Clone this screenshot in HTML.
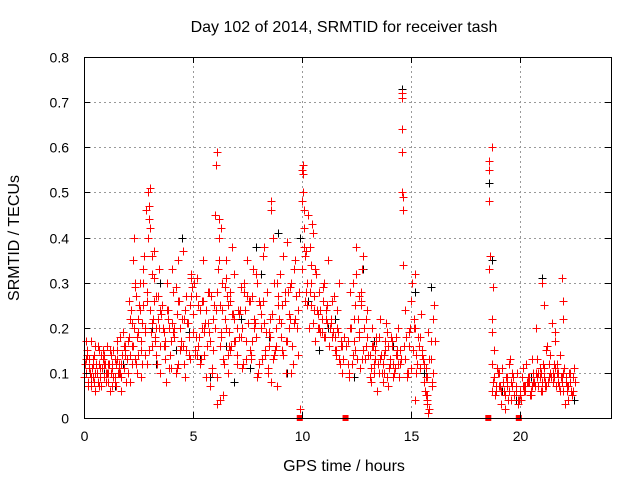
<!DOCTYPE html>
<html><head><meta charset="utf-8"><style>
body{margin:0;background:#fff;}
svg text{font-family:"Liberation Sans",sans-serif;font-size:14px;fill:#000;}
svg text.big{font-size:16px;}
</style></head><body>
<svg id="chart" width="640" height="480">
<rect width="640" height="480" fill="#fff"/>
<g id="grid"></g>
<g id="marks"></g>
<g id="axes"></g>
<text class="big" x="344" y="32" text-anchor="middle">Day 102 of 2014, SRMTID for receiver tash</text>
<text class="big" x="344" y="471" text-anchor="middle">GPS time / hours</text>
<text class="big" transform="translate(19,238) rotate(-90)" text-anchor="middle">SRMTID / TECUs</text>
</svg>
<script>
const xTicks=[0,5,10,15,20];
const yTicks=[0,0.1,0.2,0.3,0.4,0.5,0.6,0.7,0.8];
const yLabels=["0","0.1","0.2","0.3","0.4","0.5","0.6","0.7","0.8"];
const gapTimes=[9.9,12.0,18.55,19.95];
const redT=[0.05,0.1,0.15,0.2,0.25,0.3,0.35,0.4,0.45,0.5,0.55,0.6,0.65,0.7,0.75,0.8,0.85,0.9,0.95,1.0,1.05,1.1,1.15,1.2,1.25,1.3,1.35,1.4,1.45,1.5,1.55,1.6,1.65,1.7,1.75,1.8,1.85,1.9,1.95,
0.1,0.2,0.3,0.4,0.5,0.6,0.7,0.8,0.9,1.0,1.1,1.2,1.3,1.4,1.5,1.6,1.7,1.8,1.9,
2.0,2.05,2.1,2.15,2.2,2.25,2.3,2.35,2.4,2.45,2.5,2.55,2.6,2.65,2.7,2.75,2.8,2.85,2.9,2.95,3.0,3.05,3.1,3.15,3.2,3.25,3.3,3.35,3.4,3.45,3.5,
2.1,2.2,2.3,2.4,2.5,2.6,2.7,2.8,2.9,3.0,3.05,3.1,3.2,3.3,3.4,3.5,2.35,2.55,3.0,3.1,
3.6,3.7,3.8,3.9,4.0,4.1,4.2,4.3,4.4,4.5,4.6,4.7,4.8,4.9,3.65,3.75,3.85,3.95,4.05,4.15,4.25,4.35,4.45,4.55,4.65,4.75,4.85,4.95,3.7,4.0,4.3,4.6,4.9,
5.0,5.1,5.2,5.3,5.4,5.5,5.6,5.7,5.8,5.9,5.05,5.15,5.25,5.35,5.45,5.55,5.65,5.75,5.85,5.95,5.2,5.5,5.8,
6.0,6.05,6.1,6.15,6.2,6.25,6.3,6.35,6.4,6.45,6.5,6.55,6.6,6.65,6.7,6.75,6.8,6.9,7.0,6.1,6.2,6.3,6.4,6.5,6.6,6.7,6.8,6.9,7.0,6.12,6.18,6.22,
7.1,7.2,7.3,7.4,7.5,7.6,7.7,7.8,7.9,8.0,8.1,8.2,8.3,8.4,8.5,8.6,8.7,8.8,8.9,7.15,7.25,7.35,7.45,7.55,7.65,7.75,7.85,7.95,8.05,8.15,8.25,8.35,8.45,8.55,8.65,8.75,8.85,8.95,8.6,8.6,
9.0,9.1,9.2,9.3,9.4,9.5,9.6,9.7,9.8,9.05,9.15,9.25,9.35,9.45,9.55,9.65,9.75,9.85,9.9,
10.0,10.05,10.1,10.15,10.2,10.3,10.4,10.5,10.6,10.7,10.8,10.9,11.0,11.1,11.2,11.3,11.4,11.5,11.6,11.7,11.8,11.9,10.05,10.1,10.25,10.35,10.45,10.55,10.65,10.75,10.85,10.95,11.05,11.15,11.25,11.35,11.45,11.55,11.65,11.75,11.85,10.0,10.05,10.1,10.4,10.5,
12.1,12.2,12.3,12.4,12.5,12.6,12.7,12.8,12.9,13.0,12.15,12.25,12.35,12.45,12.55,12.65,12.75,12.85,12.95,12.5,12.6,12.7,
13.1,13.2,13.3,13.4,13.5,13.6,13.7,13.8,13.9,14.0,14.1,14.2,14.3,14.4,14.5,14.7,14.8,14.9,13.15,13.25,13.35,13.45,13.55,13.65,13.75,13.85,13.95,14.05,14.15,14.25,14.35,14.45,14.55,14.75,14.85,14.95,
14.6,14.6,14.6,14.6,14.65,14.65,14.6,14.65,
15.0,15.1,15.2,15.3,15.4,15.5,15.6,15.7,15.8,15.9,16.0,16.1,15.05,15.15,15.25,15.35,15.45,15.55,15.65,15.75,15.85,15.95,16.05,15.7,15.75,15.8,15.7,15.75,15.2,
18.6,18.6,18.65,18.6,18.7,18.75,18.7,18.8,18.6,18.7,
18.7,18.8,18.9,19.0,19.1,19.2,19.3,19.4,19.5,19.6,19.7,19.8,19.9,18.75,18.85,18.95,19.05,19.15,19.25,19.35,19.45,19.55,19.65,19.75,19.85,19.95,19.3,19.4,19.5,19.6,
20.0,20.1,20.2,20.3,20.4,20.5,20.6,20.7,20.8,20.9,21.0,21.1,21.2,21.3,21.4,21.5,21.6,21.7,21.8,21.9,20.05,20.15,20.25,20.35,20.45,20.55,20.65,20.75,20.85,20.95,21.05,21.15,21.25,21.35,21.45,21.55,21.65,21.75,21.85,21.95,21.0,21.1,21.6,
22.0,22.1,22.2,22.3,22.4,22.5,22.05,22.15,22.25,22.35,22.45,21.95,22.0,22.0];
const redV=[0.12,0.1,0.15,0.08,0.13,0.17,0.11,0.09,0.14,0.06,0.12,0.1,0.08,0.15,0.11,0.07,0.13,0.09,0.12,0.1,0.16,0.08,0.12,0.06,0.14,0.11,0.09,0.13,0.07,0.15,0.1,0.12,0.18,0.09,0.14,0.19,0.11,0.16,0.13,
0.17,0.07,0.09,0.13,0.16,0.1,0.07,0.14,0.12,0.08,0.1,0.15,0.12,0.08,0.17,0.11,0.06,0.19,0.15,
0.1,0.18,0.14,0.24,0.16,0.35,0.2,0.13,0.27,0.1,0.22,0.3,0.17,0.12,0.25,0.36,0.19,0.46,0.28,0.5,0.15,0.42,0.32,0.22,0.37,0.18,0.27,0.12,0.22,0.33,0.16,
0.08,0.21,0.4,0.12,0.19,0.09,0.3,0.14,0.26,0.47,0.51,0.21,0.31,0.2,0.27,0.1,0.29,0.24,0.44,0.36,
0.25,0.13,0.3,0.2,0.17,0.28,0.1,0.35,0.15,0.22,0.12,0.27,0.18,0.32,0.19,0.08,0.24,0.14,0.33,0.2,0.11,0.26,0.16,0.37,0.09,0.21,0.13,0.29,0.17,0.11,0.26,0.22,0.31,
0.23,0.15,0.31,0.12,0.26,0.2,0.09,0.28,0.17,0.22,0.3,0.18,0.25,0.13,0.35,0.21,0.16,0.28,0.1,0.25,0.14,0.19,0.07,
0.45,0.56,0.59,0.33,0.4,0.25,0.18,0.3,0.13,0.22,0.35,0.27,0.1,0.19,0.28,0.16,0.23,0.32,0.2,0.09,0.35,0.42,0.05,0.31,0.14,0.26,0.38,0.17,0.12,0.03,0.44,0.04,
0.18,0.29,0.12,0.24,0.35,0.15,0.27,0.2,0.32,0.1,0.23,0.36,0.14,0.28,0.19,0.08,0.3,0.16,0.25,0.24,0.11,0.3,0.17,0.26,0.14,0.33,0.21,0.09,0.26,0.13,0.38,0.19,0.1,0.22,0.4,0.15,0.07,0.22,0.48,0.46,
0.32,0.15,0.26,0.39,0.2,0.3,0.12,0.35,0.24,0.18,0.36,0.1,0.28,0.22,0.16,0.33,0.2,0.28,0.02,
0.55,0.5,0.42,0.36,0.28,0.45,0.3,0.21,0.33,0.24,0.28,0.19,0.3,0.22,0.35,0.2,0.26,0.18,0.24,0.3,0.16,0.13,0.56,0.46,0.25,0.38,0.43,0.27,0.32,0.2,0.24,0.29,0.18,0.25,0.16,0.22,0.27,0.15,0.19,0.12,0.1,0.48,0.54,0.38,0.34,0.41,
0.17,0.28,0.12,0.22,0.32,0.18,0.26,0.36,0.13,0.24,0.09,0.2,0.3,0.15,0.22,0.11,0.33,0.2,0.16,0.38,0.27,0.25,
0.14,0.2,0.1,0.17,0.12,0.22,0.08,0.15,0.19,0.11,0.18,0.09,0.14,0.2,0.12,0.16,0.1,0.19,0.08,0.16,0.13,0.06,0.18,0.1,0.14,0.21,0.07,0.12,0.17,0.11,0.15,0.09,0.13,0.24,0.1,0.2,
0.71,0.64,0.59,0.5,0.49,0.46,0.72,0.34,
0.26,0.15,0.2,0.12,0.18,0.14,0.08,0.11,0.19,0.13,0.22,0.17,0.3,0.22,0.1,0.16,0.23,0.13,0.06,0.03,0.02,0.07,0.25,0.05,0.04,0.01,0.09,0.05,0.32,
0.55,0.48,0.36,0.57,0.6,0.29,0.22,0.15,0.33,0.19,
0.12,0.09,0.06,0.1,0.07,0.11,0.05,0.08,0.12,0.04,0.09,0.06,0.03,0.08,0.05,0.11,0.07,0.03,0.06,0.09,0.04,0.13,0.07,0.05,0.1,0.04,0.02,0.07,0.06,0.08,
0.05,0.09,0.06,0.12,0.08,0.05,0.1,0.07,0.13,0.09,0.06,0.11,0.15,0.08,0.14,0.1,0.17,0.12,0.07,0.09,0.04,0.11,0.07,0.09,0.05,0.13,0.08,0.2,0.1,0.06,0.12,0.08,0.16,0.09,0.21,0.12,0.07,0.1,0.06,0.08,0.3,0.25,0.19,
0.06,0.09,0.04,0.08,0.05,0.11,0.03,0.07,0.1,0.06,0.09,0.31,0.26,0.22];
const redT2=[0.02,0.12,0.22,0.32,0.42,0.52,0.62,0.72,0.82,0.92,1.02,1.12,1.22,1.32,1.42,1.52,1.62,1.72,1.82,1.92,0.07,0.27,0.47,0.67,0.87,1.07,1.27,1.47,1.67,1.87,
2.02,2.12,2.22,2.32,2.42,2.52,2.62,2.72,2.82,2.92,3.02,3.12,3.22,3.32,3.42,3.52,2.07,2.27,2.47,2.67,2.87,3.07,3.27,3.47,
3.62,3.72,3.82,3.92,4.02,4.12,4.22,4.32,4.42,4.52,4.62,4.72,4.82,4.92,3.67,3.87,4.07,4.27,4.47,4.67,4.87,
5.02,5.12,5.22,5.32,5.42,5.52,5.62,5.72,5.82,5.92,5.07,5.27,5.47,5.67,5.87,
6.02,6.12,6.22,6.32,6.42,6.52,6.62,6.72,6.82,6.92,6.07,6.27,6.47,6.67,6.87,
7.02,7.12,7.22,7.32,7.42,7.52,7.62,7.72,7.82,7.92,8.02,8.12,8.22,8.32,8.42,8.52,8.62,8.72,8.82,8.92,7.07,7.27,7.47,7.67,7.87,8.07,8.27,8.47,8.67,8.87,
9.02,9.12,9.22,9.32,9.42,9.52,9.62,9.72,9.82,9.07,9.27,9.47,9.67,
10.02,10.12,10.22,10.32,10.42,10.52,10.62,10.72,10.82,10.92,11.02,11.12,11.22,11.32,11.42,11.52,11.62,11.72,11.82,11.92,10.17,10.37,10.57,10.77,10.97,11.17,11.37,11.57,11.77,
12.02,12.12,12.22,12.32,12.42,12.52,12.62,12.72,12.82,12.92,12.17,12.37,12.57,12.77,12.97,
13.02,13.12,13.22,13.32,13.42,13.52,13.62,13.72,13.82,13.92,14.02,14.12,14.22,14.32,14.42,14.52,14.72,14.82,14.92,13.17,13.37,13.57,13.77,13.97,14.17,14.37,14.77,
15.02,15.12,15.22,15.32,15.42,15.52,15.62,15.72,15.82,15.92,16.02,15.17,15.37,15.57,15.77,15.97,
18.72,18.82,18.92,19.02,19.12,19.22,19.32,19.42,19.52,19.62,19.72,19.82,19.92,
20.02,20.12,20.22,20.32,20.42,20.52,20.62,20.72,20.82,20.92,21.02,21.12,21.22,21.32,21.42,21.52,21.62,21.72,21.82,21.92,22.02,22.12,22.22,22.32,22.42,22.52,20.17,20.37,20.57,20.77,20.97,21.17,21.37,21.57,21.77,21.97,22.17,22.37];
const redV2=[0.09,0.14,0.11,0.07,0.12,0.1,0.16,0.09,0.11,0.14,0.08,0.12,0.1,0.15,0.09,0.13,0.1,0.12,0.16,0.08,0.13,0.1,0.08,0.12,0.15,0.1,0.07,0.12,0.1,0.14,
0.17,0.22,0.12,0.3,0.18,0.25,0.15,0.33,0.2,0.4,0.24,0.16,0.26,0.14,0.2,0.23,0.26,0.16,0.14,0.21,0.12,0.19,0.17,0.24,
0.2,0.16,0.24,0.11,0.21,0.18,0.29,0.12,0.2,0.16,0.24,0.21,0.14,0.27,0.16,0.22,0.19,0.23,0.17,0.15,0.25,
0.19,0.27,0.16,0.24,0.2,0.14,0.24,0.19,0.27,0.15,0.14,0.18,0.26,0.21,0.11,
0.2,0.28,0.16,0.24,0.12,0.2,0.25,0.15,0.23,0.17,0.24,0.19,0.29,0.16,0.22,
0.14,0.23,0.18,0.28,0.13,0.21,0.26,0.17,0.22,0.3,0.12,0.2,0.26,0.15,0.11,0.18,0.23,0.14,0.2,0.27,0.24,0.2,0.27,0.13,0.18,0.25,0.21,0.16,0.13,0.3,
0.21,0.14,0.28,0.17,0.23,0.1,0.21,0.27,0.14,0.25,0.17,0.29,0.22,
0.33,0.26,0.3,0.2,0.25,0.21,0.17,0.23,0.19,0.22,0.18,0.24,0.16,0.21,0.19,0.15,0.2,0.13,0.16,0.18,0.37,0.28,0.24,0.2,0.26,0.21,0.18,0.14,0.17,
0.16,0.12,0.2,0.14,0.25,0.13,0.19,0.28,0.15,0.22,0.1,0.17,0.22,0.13,0.18,
0.14,0.09,0.16,0.12,0.18,0.1,0.14,0.12,0.17,0.09,0.13,0.16,0.1,0.18,0.12,0.15,0.13,0.09,0.16,0.11,0.15,0.13,0.1,0.16,0.12,0.14,0.18,0.11,
0.2,0.14,0.18,0.11,0.15,0.12,0.09,0.13,0.17,0.1,0.04,0.16,0.13,0.19,0.08,0.06,
0.09,0.07,0.1,0.06,0.08,0.05,0.09,0.06,0.1,0.05,0.07,0.04,0.06,
0.07,0.06,0.08,0.09,0.06,0.08,0.1,0.07,0.11,0.08,0.09,0.07,0.12,0.09,0.08,0.11,0.1,0.14,0.09,0.11,0.08,0.07,0.1,0.06,0.08,0.07,0.08,0.07,0.09,0.1,0.07,0.1,0.09,0.08,0.1,0.06,0.05,0.09];
const blackT=[0.3,0.9,1.4,1.8,2.5,3.1,3.5,4.2,4.5,4.8,5.3,5.8,6.5,7.2,7.6,8.1,8.5,8.9,9.3,9.9,10.3,10.8,11.5,12.4,12.8,13.5,14.2,14.6,15.2,15.6,15.9,18.6,18.7,19.2,19.8,20.5,21.0,21.4,22.2,22.5,6.9,7.9,3.3,11.2,13.3];
const blackV=[0.08,0.1,0.07,0.12,0.14,0.2,0.3,0.15,0.4,0.19,0.13,0.09,0.16,0.22,0.11,0.32,0.18,0.41,0.1,0.4,0.26,0.15,0.22,0.09,0.33,0.12,0.16,0.73,0.28,0.1,0.29,0.52,0.35,0.06,0.04,0.09,0.31,0.14,0.07,0.04,0.08,0.38,0.12,0.2,0.17];
const X0=84,X1=611,Y0=418,Y1=57,XMAX=24.18,YMAX=0.8;
const xs=t=>X0+t/XMAX*(X1-X0);
const ys=v=>Y0-v/YMAX*(Y0-Y1);
const NS='http://www.w3.org/2000/svg';
function mk(tag,a,p){const e=document.createElementNS(NS,tag);for(const k in a)e.setAttribute(k,a[k]);p.appendChild(e);return e;}
const grid=document.getElementById('grid'),axes=document.getElementById('axes'),marks=document.getElementById('marks');
yTicks.forEach((v,i)=>{const y=Math.round(ys(v))+0.5;
 if(i>0&&i<yTicks.length-1){const g=mk('line',{x1:X0,x2:X1,y1:y,y2:y,stroke:'#999','stroke-dasharray':'2,3'},grid);
 
 }
 mk('line',{x1:X0,x2:X0+6,y1:y,y2:y,stroke:'#000'},axes);
 mk('line',{x1:X1,x2:X1-6,y1:y,y2:y,stroke:'#000'},axes);
 const t=mk('text',{x:X0-15,y:y+5,'text-anchor':'end'},axes);t.textContent=yLabels[i];
 
 });
xTicks.forEach((v,i)=>{const x=Math.round(xs(v))+0.5;
 if(i>0){const g=mk('line',{x1:x,x2:x,y1:Y0,y2:Y1,stroke:'#999','stroke-dasharray':'2,3'},grid);
 
 }
 mk('line',{x1:x,x2:x,y1:Y0,y2:Y0-6,stroke:'#000'},axes);
 mk('line',{x1:x,x2:x,y1:Y1,y2:Y1+6,stroke:'#000'},axes);
 const t=mk('text',{x:x,y:Y0+23,'text-anchor':'middle'},axes);t.textContent=String(v);
 
 });
const fr=mk('rect',{x:X0+0.5,y:Y1+0.5,width:X1-X0,height:Y0-Y1,fill:'none',stroke:'#000'},axes);


function plus(t,v,c){const x=Math.round(xs(t))+0.5,y=Math.round(ys(v))+0.5;
 const p=mk('path',{d:`M${x-4},${y}H${x+4}M${x},${y-4}V${y+4}`,stroke:c,'stroke-width':1},marks);
 
 }
blackT.forEach((t,i)=>plus(t,blackV[i],'#000'));
redT.forEach((t,i)=>plus(t,redV[i],'#f00'));
redT2.forEach((t,i)=>plus(t,redV2[i],'#f00'));
gapTimes.forEach(t=>{const r=mk('rect',{x:xs(t)-3,y:Y0-3,width:6,height:6,fill:'#f00'},marks);
 
 });
</script>
</body></html>
